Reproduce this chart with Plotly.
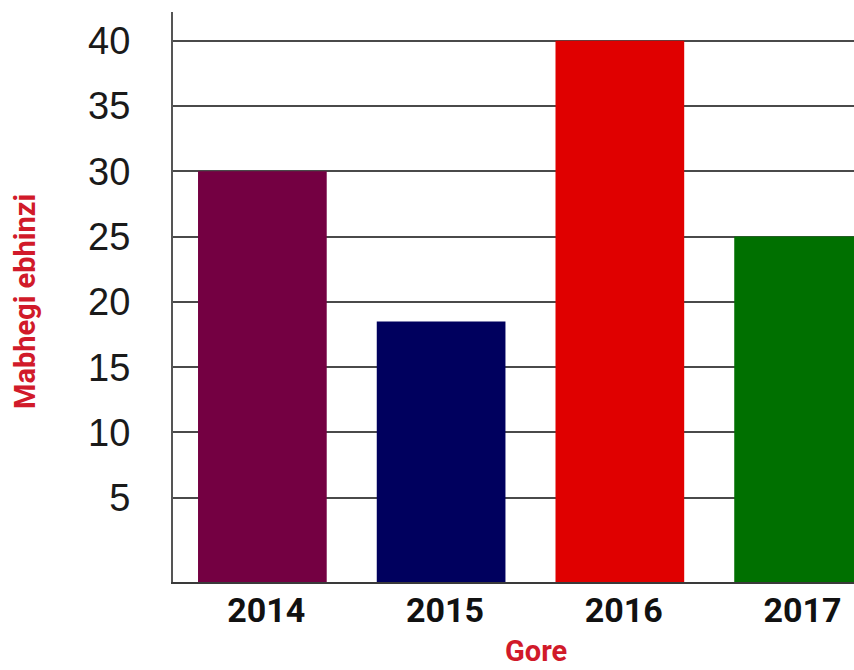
import plotly.graph_objects as go

years = ["2014", "2015", "2016", "2017"]
values = [30, 18.5, 40, 25]
bar_colors = ["#740042", "#00005e", "#e00000", "#007000"]
y_ticks = [5, 10, 15, 20, 25, 30, 35, 40]
y_title = "Mabhegi ebhinzi"
x_title = "Gore"

Y_BASE = -1.45
Y_TOP = 42.2

fig = go.Figure(
    go.Bar(
        x=list(range(len(years))),
        y=[v - Y_BASE for v in values],
        base=Y_BASE,
        marker=dict(color=bar_colors, line=dict(width=0)),
        width=0.72,
        hovertext=[f"{y}: {v}" for y, v in zip(years, values)],
        hoverinfo="text",
    )
)

fig.update_layout(
    width=854,
    height=670,
    margin=dict(l=173, r=0, t=12, b=88),
    paper_bgcolor="white",
    plot_bgcolor="white",
    showlegend=False,
    xaxis=dict(
        range=[-0.50, 3.31],
        tickmode="array",
        tickvals=list(range(len(years))),
        ticktext=years,
        tickfont=dict(family="Roboto", size=34, color="#111111", weight="bold"),
        ticklabelshift=4,
        ticklabelstandoff=-3,
        showgrid=False,
        showline=True,
        linecolor="#3a3a3a",
        linewidth=2,
        zeroline=False,
    ),
    yaxis=dict(
        range=[Y_BASE, Y_TOP],
        tickmode="array",
        tickvals=y_ticks,
        ticktext=[str(t) for t in y_ticks],
        tickfont=dict(family="Liberation Sans, Arial", size=38, color="#1a1a1a"),
        ticklabelstandoff=33,
        showgrid=True,
        gridcolor="#4a4a4a",
        gridwidth=2,
        showline=True,
        linecolor="#555555",
        linewidth=2,
        zeroline=False,
    ),
    annotations=[
        dict(
            text=y_title,
            xref="paper", yref="paper",
            x=(25 - 173) / 681, y=(582 - 302) / 570,
            xanchor="center", yanchor="middle",
            textangle=-90,
            showarrow=False,
            font=dict(family="Roboto", size=29, color="#d11a2a", weight="bold"),
        ),
        dict(
            text=x_title,
            xref="paper", yref="paper",
            x=(536 - 173) / 681, y=-(651 - 582) / 570,
            xanchor="center", yanchor="middle",
            showarrow=False,
            font=dict(family="Roboto", size=29, color="#d11a2a", weight="bold"),
        ),
    ],
)

fig.write_html("out.html")
